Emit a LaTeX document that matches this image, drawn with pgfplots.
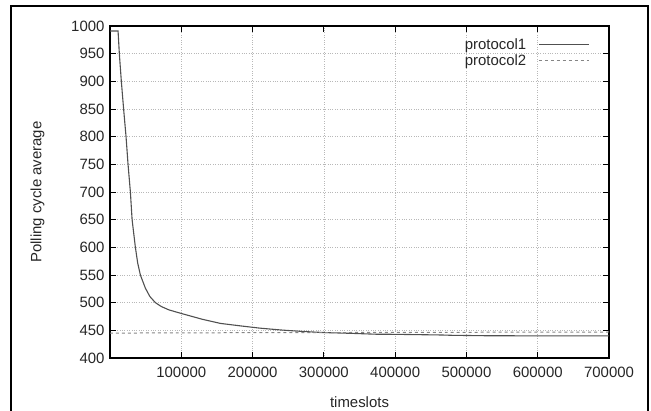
\documentclass[border=0pt]{standalone}
\usepackage{pgfplots}
\pgfplotsset{compat=1.18}
\usepackage{fontspec}
\setmainfont{Liberation Sans}
\definecolor{pone}{HTML}{505050}
\definecolor{ptwo}{HTML}{858585}
\definecolor{gridc}{HTML}{B8B8B8}
\begin{document}
\begin{tikzpicture}[x=1bp,y=1bp]
\path[use as bounding box] (0,0) rectangle (651,410);
\draw[line width=2bp,black] (11,-5) rectangle (648,404);
\begin{axis}[
  at={(110bp,52bp)}, anchor=south west,
  scale only axis, width=499bp, height=332bp,
  xmin=0, xmax=700000, ymin=400, ymax=1000,
  xtick={100000,200000,...,700000},
  ytick={400,450,...,1000},
  scaled x ticks=false,
  xticklabel={\pgfmathprintnumber[fixed,precision=0,1000 sep={}]{\tick}},
  yticklabel={\pgfmathprintnumber[fixed,precision=0,1000 sep={}]{\tick}},
  /pgf/number format/assume math mode=true,
  tick align=inside,
  major tick length=6bp,
  tick style={black, line width=1bp},
  axis line style={black, line width=1.3bp},
  grid=major,
  major grid style={gridc, dotted, line width=0.6bp},
  font=\fontsize{15}{17}\selectfont,
  tick label style={font=\fontsize{15}{17}\selectfont, text=black!85},
  xticklabel style={yshift=-6bp},
  yticklabel style={xshift=-2bp},
  xlabel={timeslots}, ylabel={Polling cycle average},
  label style={font=\fontsize{15}{17}\selectfont, text=black!85},
  xlabel style={yshift=-12bp},
  ylabel style={yshift=20bp},
  legend style={draw=none, fill=none, at={(axis description cs:0.967,0.975)}, anchor=north east,
    font=\fontsize{15}{17}\selectfont, text=black!85, row sep=0bp, legend cell align=right},
  legend plot pos=right,
  legend image code/.code={\path (0bp,0bp); \draw[#1] (10bp,0bp) -- (60bp,0bp);},
]
\addplot[pone, line width=1.1bp] coordinates {
(0,991) (11300,991) (13100,950) (15900,900) (19100,850) (22500,800) (25300,750)
(28600,700) (31000,650) (35600,600) (38800,572) (42600,550) (49700,526) (56000,511)
(63700,500) (72000,493) (82500,487) (100000,480.5) (129400,470) (155000,462.5) (183300,458)
(210000,454) (240000,450.6) (270000,448)
(300000,446) (340000,444.5) (373000,443) (400000,442.8) (465000,441.6) (480000,441)
(525000,440.3) (600000,440) (700000,440)
};
\addlegendentry{protocol1}
\addplot[ptwo, dashed, line width=1.0bp] coordinates {
(0,445) (100000,445.5) (300000,446) (500000,446.5) (700000,447)
};
\addlegendentry{protocol2}
\end{axis}
\end{tikzpicture}
\end{document}
